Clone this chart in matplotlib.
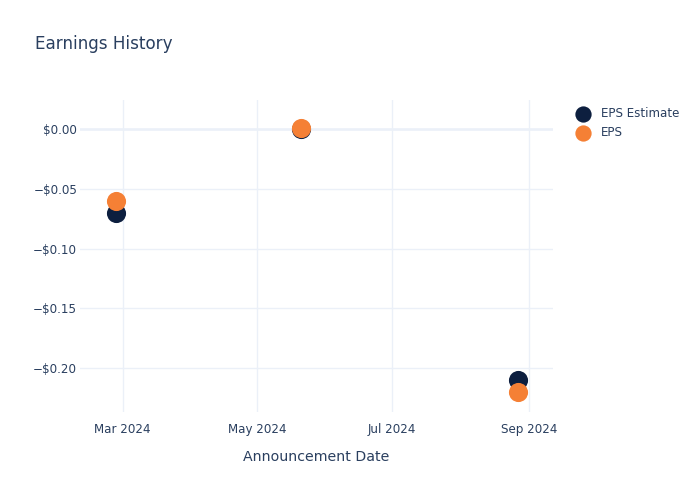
import matplotlib
matplotlib.use("Agg")
import matplotlib.pyplot as plt
import matplotlib.dates as mdates
from matplotlib.ticker import FuncFormatter
import datetime as dt

dates = ["2024-02-27", "2024-05-21", "2024-08-27"]
eps_estimate = [-0.07, 0.0, -0.21]
eps_actual = [-0.06, 0.001, -0.22]
series_names = ["EPS Estimate", "EPS"]
x_ticks = ["2024-03-01", "2024-05-01", "2024-07-01", "2024-09-01"]
y_ticks = [0.0, -0.05, -0.10, -0.15, -0.20]

TEXT = "#2a3f5f"
GRID = "#ebf0f8"
NAVY = "#0d1f3f"
ORANGE = "#f58035"

plt.rcParams['font.family'] = ['DejaVu Sans']

fig = plt.figure(figsize=(7, 5), dpi=100)
ax = fig.add_axes([80/700, 88/500, 473/700, 312/500])

xd = [dt.datetime.fromisoformat(d) for d in dates]
ax.scatter(xd, eps_estimate, s=190, color=NAVY, zorder=3, label=series_names[0], linewidths=0)
ax.scatter(xd, eps_actual, s=190, color=ORANGE, zorder=4, label=series_names[1], linewidths=0)

ax.set_xlim(dt.datetime(2024, 2, 10, 16), dt.datetime(2024, 9, 12))
ax.set_ylim(-0.2368, 0.0243)

ax.set_xticks([dt.datetime.fromisoformat(d) for d in x_ticks])
ax.xaxis.set_major_formatter(mdates.DateFormatter("%b %Y"))
ax.set_yticks(y_ticks)
ax.yaxis.set_major_formatter(FuncFormatter(lambda v, p: ("\u2212" if v < -1e-9 else "") + "$%.2f" % abs(v)))

ax.grid(True, color=GRID, linewidth=1, zorder=0)
ax.axhline(0, color=GRID, linewidth=1.8, zorder=1)
for s in ax.spines.values():
    s.set_visible(False)
ax.tick_params(length=0, colors=TEXT, labelsize=8.6)
ax.tick_params(axis='x', pad=8)
ax.tick_params(axis='y', pad=2)
ax.set_axisbelow(True)

ax.set_xlabel("Announcement Date", color=TEXT, fontsize=10.2, labelpad=10)

fig.text(35/700, 1 - 44/500, "Earnings History", color=TEXT, fontsize=12.1, va='center', ha='left')

leg = fig.legend(loc='upper left', bbox_to_anchor=(570/700, 1 - 101/500), frameon=False,
                 fontsize=8.6, labelcolor=TEXT, handletextpad=0.9, borderpad=0,
                 labelspacing=0.5, markerscale=0.85, handlelength=1.2)

fig.savefig("out.png", dpi=100, facecolor="white")
